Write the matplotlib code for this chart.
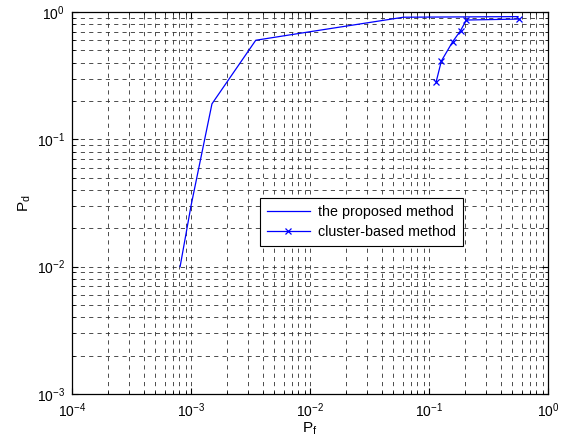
import matplotlib
matplotlib.use("Agg")
import matplotlib.pyplot as plt
from matplotlib.ticker import LogLocator, NullFormatter

plt.rcParams['font.family'] = ['Liberation Sans', 'DejaVu Sans']
plt.rcParams['mathtext.fontset'] = 'custom'
plt.rcParams['mathtext.rm'] = 'Liberation Sans'
plt.rcParams['mathtext.it'] = 'Liberation Sans'

# Data
proposed_pf = [8.1e-4, 1.0e-3, 1.5e-3, 3.5e-3, 1.0e-2, 6.1e-2, 0.56]
proposed_pd = [0.01, 0.03, 0.19, 0.60, 0.70, 0.91, 0.92]
cluster_pf = [0.115, 0.127, 0.158, 0.184, 0.206, 0.566]
cluster_pd = [0.284, 0.412, 0.584, 0.713, 0.865, 0.88]
labels = ['the proposed method', 'cluster-based method']

fig = plt.figure(figsize=(5.78, 4.46), dpi=100)
ax = fig.add_axes([72/578, 52/446, 476/578, 382/446])

ax.plot(proposed_pf, proposed_pd, color='#0000FF', lw=0.9, label=labels[0])
ax.plot(cluster_pf, cluster_pd, color='#0000FF', lw=0.9, marker='x',
        markersize=5, markeredgewidth=0.9, label=labels[1])

ax.set_xscale('log')
ax.set_yscale('log')
ax.set_xlim(1e-4, 1)
ax.set_ylim(1e-3, 1)

ax.xaxis.set_major_locator(LogLocator(base=10, numticks=10))
ax.yaxis.set_major_locator(LogLocator(base=10, numticks=10))
ax.xaxis.set_minor_locator(LogLocator(base=10, subs=range(2, 10), numticks=20))
ax.yaxis.set_minor_locator(LogLocator(base=10, subs=range(2, 10), numticks=20))
ax.xaxis.set_minor_formatter(NullFormatter())
ax.yaxis.set_minor_formatter(NullFormatter())

grid_kw = dict(color='#303030', linestyle=(0, (5, 5)), linewidth=0.6)
ax.grid(True, which='major', **grid_kw)
ax.grid(True, which='minor', **grid_kw)
ax.set_axisbelow(True)

ax.tick_params(which='both', direction='in', top=True, right=True,
               labelsize=10, colors='black')
ax.tick_params(axis='y', pad=5)
ax.tick_params(axis='x', pad=5)
ax.tick_params(which='major', length=4)
ax.tick_params(which='minor', length=2)
for s in ax.spines.values():
    s.set_linewidth(0.9)

ax.set_xlabel('P$_{\\mathregular{f}}$', fontsize=11, labelpad=1)
ax.set_ylabel('P$_{\\mathregular{d}}$', fontsize=11, labelpad=3)

leg = ax.legend(loc='upper left', bbox_to_anchor=(0.396, 0.512),
                fontsize=10.3, frameon=True, fancybox=False, framealpha=1,
                edgecolor='black', borderpad=0.45, handlelength=3.0,
                handletextpad=0.6, labelspacing=0.45, borderaxespad=0)
leg.get_frame().set_linewidth(0.8)

fig.savefig('out.png', dpi=100)
